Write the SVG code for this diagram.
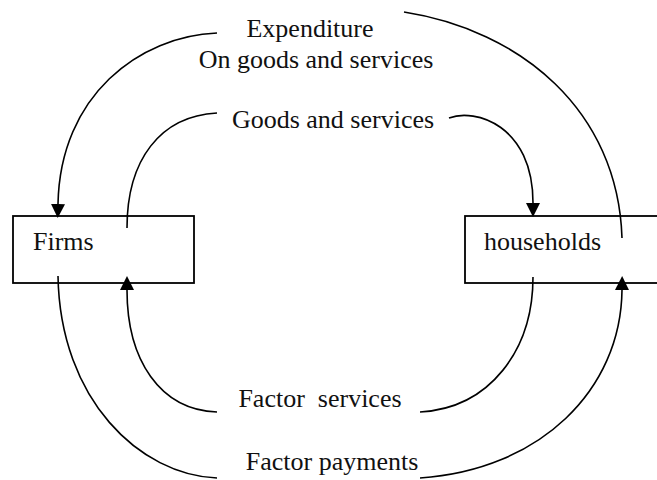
<svg xmlns="http://www.w3.org/2000/svg" width="657" height="480" viewBox="0 0 657 480">
<style>
  .box { fill: #fff; stroke: #000; stroke-width: 1.8; }
  .lbl { font-size: 26px; fill: #111; }
  .flow { fill: none; stroke: #000; stroke-width: 1.6; }
  .arr { marker-end: url(#ah); }
</style>
<defs>
  <marker id="ah" viewBox="0 0 10 10" refX="0" refY="5" markerWidth="14" markerHeight="14" markerUnits="userSpaceOnUse" orient="auto">
    <path d="M0,0 L10,5 L0,10 z" fill="#000"/>
  </marker>
</defs>
<rect width="657" height="480" fill="#fff"/>
<g font-family="'Liberation Serif', 'DejaVu Serif', 'Times New Roman', serif">
<g id="firms">
  <rect class="box" x="13" y="216" width="181" height="67"/>
  <text class="lbl" x="33" y="250">Firms</text>
</g>
<g id="households">
  <rect class="box" x="465" y="216" width="200" height="67"/>
  <text class="lbl" x="484" y="250">households</text>
</g>
<g id="labels">
  <text class="lbl" x="310" y="37" text-anchor="middle">Expenditure</text>
  <text class="lbl" x="316" y="68" text-anchor="middle">On goods and services</text>
  <text class="lbl" x="333" y="128" text-anchor="middle">Goods and services</text>
  <text class="lbl" x="320" y="407" text-anchor="middle" xml:space="preserve" style="white-space:pre">Factor  services</text>
  <text class="lbl" x="332" y="470" text-anchor="middle">Factor payments</text>
</g>
</g>
<g id="connectors">
  <path class="flow" d="M404,12 C520,30 618,110 622,238"/>
  <path class="flow arr" d="M217,33 C140,36 60,95 58,204"/>
  <path class="flow" d="M217,113 C160,116 127,160 127,228"/>
  <path class="flow arr" d="M449,118 C475,108 533,125 533,203"/>
  <path class="flow arr" d="M217,412 C160,410 127,360 127,290"/>
  <path class="flow" d="M420,412 C490,408 533,350 533,277"/>
  <path class="flow" d="M58,276 C60,400 140,475 217,478"/>
  <path class="flow arr" d="M420,478 C540,470 621,390 622,290"/>
</g>
</svg>
